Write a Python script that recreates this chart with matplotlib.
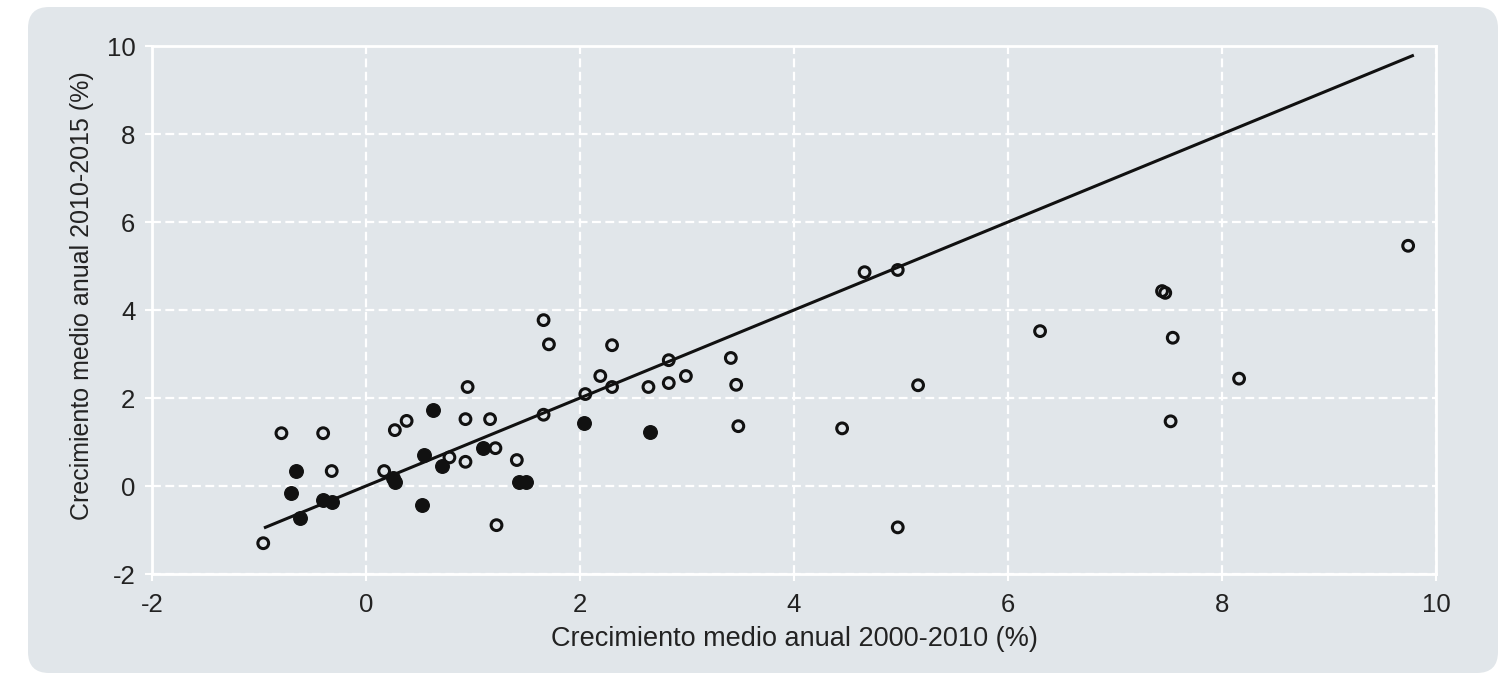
import matplotlib.pyplot as plt
from matplotlib.patches import FancyBboxPatch

# puntos huecos
x_open = [-0.96, -0.79, -0.40, -0.32, 0.17, 0.27, 0.38, 0.78, 0.93, 0.93, 0.95,
          1.16, 1.21, 1.22, 1.41, 1.66, 1.66, 1.71, 2.05, 2.19, 2.30, 2.30, 2.64,
          2.83, 2.83, 2.99, 3.41, 3.46, 3.48, 4.45, 4.66, 4.97, 4.97, 5.16, 6.30,
          7.44, 7.47, 7.52, 7.54, 8.16, 9.74]
y_open = [-1.30, 1.20, 1.20, 0.34, 0.34, 1.27, 1.48, 0.65, 0.55, 1.52, 2.25,
          1.52, 0.86, -0.89, 0.59, 1.62, 3.77, 3.22, 2.09, 2.50, 3.20, 2.25, 2.25,
          2.86, 2.34, 2.50, 2.91, 2.30, 1.36, 1.31, 4.86, 4.91, -0.94, 2.29, 3.52,
          4.43, 4.39, 1.47, 3.37, 2.44, 5.46]

# puntos rellenos
x_fill = [-0.70, -0.65, -0.62, -0.40, -0.32, 0.25, 0.27, 0.52, 0.54, 0.63, 0.71,
          1.09, 1.43, 1.50, 2.04, 2.65]
y_fill = [-0.16, 0.34, -0.73, -0.32, -0.37, 0.18, 0.09, -0.43, 0.70, 1.73, 0.45,
          0.86, 0.09, 0.09, 1.43, 1.23]

# recta de 45 grados
line_x = [-0.94, 9.78]
line_y = [-0.94, 9.78]

ticks = [-2, 0, 2, 4, 6, 8, 10]

bg = '#e1e6ea'
txt = '#222222'

plt.rcParams['font.family'] = ['Liberation Sans', 'DejaVu Sans']

fig = plt.figure(figsize=(15.09, 6.73), dpi=100)
fig.patch.set_facecolor('white')
fig.patches.append(FancyBboxPatch((28 / 1509, 0.0), (1498 - 28) / 1509, 666 / 673,
                                  boxstyle='round,pad=0,rounding_size=0.014',
                                  transform=fig.transFigure, facecolor=bg,
                                  edgecolor='none', zorder=-5, mutation_aspect=2.24))

ax = fig.add_axes([0.1007, 0.1471, 0.8509, 0.7845])
ax.set_facecolor(bg)
ax.set_zorder(2)

ax.plot(line_x, line_y, color='#111111', linewidth=2.2, zorder=3)
ax.scatter(x_open, y_open, s=60, facecolors='none', edgecolors='#111111',
           linewidths=2.2, zorder=4)
ax.scatter(x_fill, y_fill, s=95, color='#111111', zorder=4)

ax.set_xlim(-2, 10)
ax.set_ylim(-2, 10)
ax.set_xticks(ticks)
ax.set_yticks(ticks)
ax.set_xticklabels([str(t) for t in ticks])
ax.set_yticklabels([str(t) for t in ticks])

ax.grid(True, color='white', linestyle=(0, (4, 2)), linewidth=1.6, zorder=1)
ax.set_axisbelow(True)
for sp in ax.spines.values():
    sp.set_color('white')
    sp.set_linewidth(2)
ax.tick_params(colors='white', labelcolor=txt, labelsize=18.5, length=5, width=1.5)
ax.tick_params(axis='x', pad=9)
ax.tick_params(axis='y', pad=7)

ax.set_xlabel('Crecimiento medio anual 2000-2010 (%)', fontsize=19.5, color=txt, labelpad=6)
ax.set_ylabel('Crecimiento medio anual 2010-2015 (%)', fontsize=18, color=txt)
ax.yaxis.set_label_coords(-0.045, 0.527)

plt.savefig('out.png', dpi=100, facecolor='white')
plt.close()
